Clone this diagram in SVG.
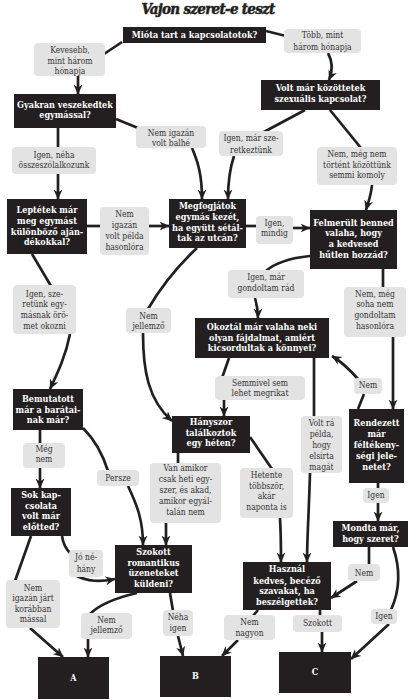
<svg xmlns="http://www.w3.org/2000/svg" width="420" height="700" viewBox="0 0 420 700">
<defs>
<style>
.bg{fill:#ffffff}
.title{font-family:"DejaVu Serif",serif;font-weight:bold;font-style:italic;font-stretch:condensed;font-size:15px;fill:#231f20;stroke:#231f20;stroke-width:0.5;text-anchor:middle;letter-spacing:-0.7px}
.q{fill:#231f20}
.qt{font-family:"DejaVu Serif",serif;font-stretch:condensed;font-weight:bold;font-size:9px;fill:#ffffff;text-anchor:middle}
.a{fill:#e3e3e3}
.at{font-family:"DejaVu Serif",serif;font-stretch:condensed;font-size:8.5px;fill:#333333;text-anchor:middle}
.c{stroke:#231f20;stroke-width:2.7;fill:none}
.ar{marker-end:url(#arr)}
</style>
<marker id="arr" markerUnits="userSpaceOnUse" markerWidth="10" markerHeight="10" viewBox="0 0 10 10" refX="9.5" refY="5" orient="auto">
<path d="M0,0.5 L10,5 L0,9.5 L3,5 Z" fill="#231f20"/>
</marker>
</defs>
<rect class="bg" x="0" y="0" width="420" height="700"/>
<text class="title" x="208" y="14">Vajon szeret-e teszt</text>

<g id="connectors">
<path class="c" d="M122,42 L104,54"/>
<path class="c ar" d="M78,76 L78,94"/>
<path class="c" d="M266,31 L286,36"/>
<path class="c ar" d="M328,53 Q335,66 329,80"/>
<path class="c" d="M116,119 L138,128"/>
<path class="c ar" d="M192,148 C198,162 202,175 202,199"/>
<path class="c" d="M58,128 L58,148"/>
<path class="c ar" d="M58,174 L58,199"/>
<path class="c" d="M305,110 L262,133"/>
<path class="c ar" d="M234,156 C230,168 228,180 228,199"/>
<path class="c" d="M330,110 L361,148"/>
<path class="c ar" d="M372,185 C371,196 368,203 366,210"/>
<path class="c" d="M87,226 L101,226"/>
<path class="c ar" d="M149,226 L169,226"/>
<path class="c" d="M246,226 L257,226"/>
<path class="c ar" d="M293,228 L310,228"/>
<path class="c" d="M32,254 L51,286"/>
<path class="c ar" d="M70,334 C66,355 58,372 50,389"/>
<path class="c" d="M197,248 Q168,275 148,309"/>
<path class="c ar" d="M143,333 C143,370 148,400 172,421"/>
<path class="c" d="M310,256 C290,258 275,263 266,271"/>
<path class="c ar" d="M255,298 C257,305 258,310 258,318"/>
<path class="c" d="M383,269 L383,288"/>
<path class="c ar" d="M393,337 L393,409"/>
<path class="c" d="M229,358 L222,378"/>
<path class="c ar" d="M224,400 L224,416"/>
<path class="c" d="M314,358 L314,417"/>
<path class="c ar" d="M310,473 C309,510 307,540 307,562"/>
<path class="c" d="M358,409 L364,394"/>
<path class="c ar" d="M358,379 C350,370 342,362 332,356"/>
<path class="c" d="M378,483 L378,489"/>
<path class="c ar" d="M378,503 L378,521"/>
<path class="c" d="M40,430 L40,444"/>
<path class="c ar" d="M40,468 L40,488"/>
<path class="c" d="M83,428 C95,440 103,455 108,471"/>
<path class="c ar" d="M128,486 C137,505 143,520 143,545"/>
<path class="c" d="M178,453 L178,464"/>
<path class="c ar" d="M166,523 L166,545"/>
<path class="c" d="M250,437 L272,469"/>
<path class="c ar" d="M280,518 C281,535 281,548 281,562"/>
<path class="c" d="M31,536 L15,581"/>
<path class="c ar" d="M30,628 L63,657"/>
<path class="c" d="M62,536 C63,543 66,549 70,553"/>
<path class="c ar" d="M75,575 C88,582 100,582 115,579"/>
<path class="c" d="M137,593 C115,598 100,604 90,614"/>
<path class="c ar" d="M88,639 L88,657"/>
<path class="c" d="M170,593 L173,611"/>
<path class="c ar" d="M178,636 L183,656"/>
<path class="c" d="M258,610 L253,616"/>
<path class="c ar" d="M238,640 L222,656"/>
<path class="c" d="M320,610 L320,616"/>
<path class="c ar" d="M322,632 L322,652"/>
<path class="c" d="M369,547 L369,565"/>
<path class="c ar" d="M357,581 L331,598"/>
<path class="c" d="M393,547 C401,570 400,590 391,610"/>
<path class="c ar" d="M389,624 L351,659"/>
</g>

<g id="q-miota"><rect class="q" x="123" y="27" width="143" height="16"/><text class="qt"><tspan x="194.5" y="38">Mióta tart a kapcsolatotok?</tspan></text></g>
<g id="l-kevesebb"><rect class="a" x="34" y="43" width="71" height="33" rx="4"/><text class="at"><tspan x="70" y="53">Kevesebb,</tspan><tspan x="70" y="63.5">mint három</tspan><tspan x="70" y="74">hónapja</tspan></text></g>
<g id="l-tobb"><rect class="a" x="284" y="29" width="77" height="24" rx="4"/><text class="at"><tspan x="322.5" y="38">Több, mint</tspan><tspan x="322.5" y="49.5">három hónapja</tspan></text></g>
<g id="q-gyakran"><rect class="q" x="14" y="94" width="102" height="34"/><text class="qt"><tspan x="65" y="108">Gyakran veszekedtek</tspan><tspan x="65" y="118">egymással?</tspan></text></g>
<g id="l-nembalhe"><rect class="a" x="136" y="126" width="70" height="22" rx="4"/><text class="at"><tspan x="171" y="136">Nem igazán</tspan><tspan x="171" y="146">volt balhé</tspan></text></g>
<g id="q-szex"><rect class="q" x="261" y="80" width="119" height="30"/><text class="qt"><tspan x="320.5" y="91">Volt már közöttetek</tspan><tspan x="320.5" y="102">szexuális kapcsolat?</tspan></text></g>
<g id="l-igensze"><rect class="a" x="219" y="131" width="64" height="25" rx="4"/><text class="at"><tspan x="251" y="141">Igen, már sze-</tspan><tspan x="251" y="153">retkeztünk</tspan></text></g>
<g id="l-nemmeg"><rect class="a" x="317" y="147" width="80" height="38" rx="4"/><text class="at"><tspan x="357" y="157">Nem, még nem</tspan><tspan x="357" y="168">történt közöttünk</tspan><tspan x="357" y="178">semmi komoly</tspan></text></g>
<g id="l-igenneha"><rect class="a" x="12" y="147" width="84" height="27" rx="4"/><text class="at"><tspan x="54" y="158">Igen, néha</tspan><tspan x="54" y="168">összeszólalkozunk</tspan></text></g>
<g id="q-leptetek"><rect class="q" x="7" y="199" width="80" height="55"/><text class="qt"><tspan x="47" y="213">Leptétek már</tspan><tspan x="47" y="224">meg egymást</tspan><tspan x="47" y="235">különböző aján-</tspan><tspan x="47" y="245">dékokkal?</tspan></text></g>
<g id="l-nempelda"><rect class="a" x="100" y="207" width="49" height="48" rx="4"/><text class="at"><tspan x="124.5" y="217">Nem</tspan><tspan x="124.5" y="228">igazán</tspan><tspan x="124.5" y="239">volt példa</tspan><tspan x="124.5" y="250">hasonlóra</tspan></text></g>
<g id="q-kezet"><rect class="q" x="169" y="199" width="77" height="49"/><text class="qt"><tspan x="207.5" y="209">Megfogjátok</tspan><tspan x="207.5" y="220">egymás kezét,</tspan><tspan x="207.5" y="231">ha együtt sétál-</tspan><tspan x="207.5" y="241">tak az utcán?</tspan></text></g>
<g id="l-igenmindig"><rect class="a" x="256" y="216" width="37" height="28" rx="4"/><text class="at"><tspan x="274.5" y="226">Igen,</tspan><tspan x="274.5" y="236">mindig</tspan></text></g>
<g id="q-hutlen"><rect class="q" x="310" y="210" width="87" height="59"/><text class="qt"><tspan x="353.5" y="226">Felmerült benned</tspan><tspan x="353.5" y="236">valaha, hogy</tspan><tspan x="353.5" y="247">a kedvesed</tspan><tspan x="353.5" y="258">hűtlen hozzád?</tspan></text></g>
<g id="l-igengondoltam"><rect class="a" x="228" y="270" width="76" height="28" rx="4"/><text class="at"><tspan x="266" y="280">Igen, már</tspan><tspan x="266" y="291">gondoltam rád</tspan></text></g>
<g id="l-nemsoha"><rect class="a" x="344" y="287" width="62" height="50" rx="4"/><text class="at"><tspan x="375" y="297">Nem, még</tspan><tspan x="375" y="307">soha nem</tspan><tspan x="375" y="318">gondoltam</tspan><tspan x="375" y="329">hasonlóra</tspan></text></g>
<g id="l-igenszeretunk"><rect class="a" x="13" y="285" width="63" height="49" rx="4"/><text class="at"><tspan x="44.5" y="297">Igen, sze-</tspan><tspan x="44.5" y="307">retünk egy-</tspan><tspan x="44.5" y="318">másnak örö-</tspan><tspan x="44.5" y="329">met okozni</tspan></text></g>
<g id="l-nemjellemzo1"><rect class="a" x="126" y="308" width="45" height="25" rx="4"/><text class="at"><tspan x="148.5" y="319">Nem</tspan><tspan x="148.5" y="329">jellemző</tspan></text></g>
<g id="q-okoztal"><rect class="q" x="195" y="318" width="134" height="40"/><text class="qt"><tspan x="262" y="330">Okoztál már valaha neki</tspan><tspan x="262" y="341">olyan fájdalmat, amiért</tspan><tspan x="262" y="351">kicsordultak a könnyei?</tspan></text></g>
<g id="l-semmivel"><rect class="a" x="215" y="376" width="90" height="24" rx="4"/><text class="at"><tspan x="260" y="386">Semmivel sem</tspan><tspan x="260" y="396">lehet megrikat</tspan></text></g>
<g id="l-nem-okoz"><rect class="a" x="354" y="378" width="28" height="16" rx="4"/><text class="at"><tspan x="368" y="388">Nem</tspan></text></g>
<g id="q-bemutatott"><rect class="q" x="13" y="389" width="70" height="41"/><text class="qt"><tspan x="48" y="402">Bemutatott</tspan><tspan x="48" y="413">már a barátai-</tspan><tspan x="48" y="423">nak már?</tspan></text></g>
<g id="q-hanyszor"><rect class="q" x="172" y="416" width="78" height="37"/><text class="qt"><tspan x="211" y="425">Hányszor</tspan><tspan x="211" y="436">találkoztok</tspan><tspan x="211" y="446">egy héten?</tspan></text></g>
<g id="l-voltra"><rect class="a" x="301" y="416" width="41" height="57" rx="4"/><text class="at"><tspan x="321.5" y="426">Volt rá</tspan><tspan x="321.5" y="437">példa,</tspan><tspan x="321.5" y="448">hogy</tspan><tspan x="321.5" y="459">elsírta</tspan><tspan x="321.5" y="470">magát</tspan></text></g>
<g id="q-rendezett"><rect class="q" x="349" y="409" width="55" height="74"/><text class="qt"><tspan x="376.5" y="426">Rendezett</tspan><tspan x="376.5" y="437">már</tspan><tspan x="376.5" y="448">féltékeny-</tspan><tspan x="376.5" y="459">ségi jele-</tspan><tspan x="376.5" y="470">netet?</tspan></text></g>
<g id="l-megnem"><rect class="a" x="23" y="443" width="42" height="25" rx="4"/><text class="at"><tspan x="44" y="452">Még</tspan><tspan x="44" y="462">nem</tspan></text></g>
<g id="l-persze"><rect class="a" x="97" y="470" width="42" height="16" rx="4"/><text class="at"><tspan x="118" y="481">Persze</tspan></text></g>
<g id="l-vanamikor"><rect class="a" x="150" y="463" width="71" height="60" rx="4"/><text class="at"><tspan x="185.5" y="471">Van amikor</tspan><tspan x="185.5" y="482">csak heti egy-</tspan><tspan x="185.5" y="493">szer, és akad,</tspan><tspan x="185.5" y="504">amikor egyál-</tspan><tspan x="185.5" y="515">talán nem</tspan></text></g>
<g id="l-hetente"><rect class="a" x="240" y="468" width="53" height="50" rx="4"/><text class="at"><tspan x="266.5" y="478">Hetente</tspan><tspan x="266.5" y="489">többször,</tspan><tspan x="266.5" y="499">akár</tspan><tspan x="266.5" y="510">naponta is</tspan></text></g>
<g id="l-igen-rend"><rect class="a" x="363" y="488" width="26" height="15" rx="4"/><text class="at"><tspan x="376" y="498">Igen</tspan></text></g>
<g id="q-sokkap"><rect class="q" x="11" y="488" width="60" height="48"/><text class="qt"><tspan x="41" y="498">Sok kap-</tspan><tspan x="41" y="509">csolata</tspan><tspan x="41" y="519">volt már</tspan><tspan x="41" y="530">előtted?</tspan></text></g>
<g id="q-mondta"><rect class="q" x="333" y="521" width="75" height="26"/><text class="qt"><tspan x="370.5" y="531">Mondta már,</tspan><tspan x="370.5" y="542">hogy szeret?</tspan></text></g>
<g id="l-jonehany"><rect class="a" x="69" y="550" width="34" height="27" rx="4"/><text class="at"><tspan x="86" y="560">Jó né-</tspan><tspan x="86" y="572">hány</tspan></text></g>
<g id="q-szokott"><rect class="q" x="115" y="545" width="77" height="48"/><text class="qt"><tspan x="153.5" y="555">Szokott</tspan><tspan x="153.5" y="566">romantikus</tspan><tspan x="153.5" y="576">üzeneteket</tspan><tspan x="153.5" y="587">küldeni?</tspan></text></g>
<g id="q-hasznal"><rect class="q" x="243" y="562" width="88" height="48"/><text class="qt"><tspan x="287" y="572">Használ</tspan><tspan x="287" y="584">kedves, becéző</tspan><tspan x="287" y="594">szavakat, ha</tspan><tspan x="287" y="605">beszélgettek?</tspan></text></g>
<g id="l-nem-mondta"><rect class="a" x="348" y="564" width="32" height="17" rx="4"/><text class="at"><tspan x="364" y="576">Nem</tspan></text></g>
<g id="l-nemigazanjart"><rect class="a" x="6" y="580" width="54" height="48" rx="4"/><text class="at"><tspan x="33" y="591">Nem</tspan><tspan x="33" y="601">igazán járt</tspan><tspan x="33" y="612">korábban</tspan><tspan x="33" y="622">mással</tspan></text></g>
<g id="l-nemjellemzo2"><rect class="a" x="81" y="613" width="51" height="26" rx="4"/><text class="at"><tspan x="106.5" y="623">Nem</tspan><tspan x="106.5" y="633">jellemző</tspan></text></g>
<g id="l-nehaigen"><rect class="a" x="163" y="610" width="30" height="26" rx="4"/><text class="at"><tspan x="178" y="620">Néha</tspan><tspan x="178" y="631">igen</tspan></text></g>
<g id="l-nemnagyon"><rect class="a" x="224" y="615" width="51" height="25" rx="4"/><text class="at"><tspan x="249.5" y="625">Nem</tspan><tspan x="249.5" y="636">nagyon</tspan></text></g>
<g id="l-szokott"><rect class="a" x="293" y="615" width="49" height="17" rx="4"/><text class="at"><tspan x="317.5" y="626">Szokott</tspan></text></g>
<g id="l-igen-mondta"><rect class="a" x="371" y="609" width="26" height="15" rx="4"/><text class="at"><tspan x="384" y="619">Igen</tspan></text></g>
<g id="r-a"><rect class="q" x="38" y="657" width="71" height="42"/><text class="qt"><tspan x="73.5" y="681">A</tspan></text></g>
<g id="r-b"><rect class="q" x="160" y="656" width="71" height="41"/><text class="qt"><tspan x="195.5" y="679">B</tspan></text></g>
<g id="r-c"><rect class="q" x="279" y="652" width="72" height="41"/><text class="qt"><tspan x="315" y="675">C</tspan></text></g>
</svg>
